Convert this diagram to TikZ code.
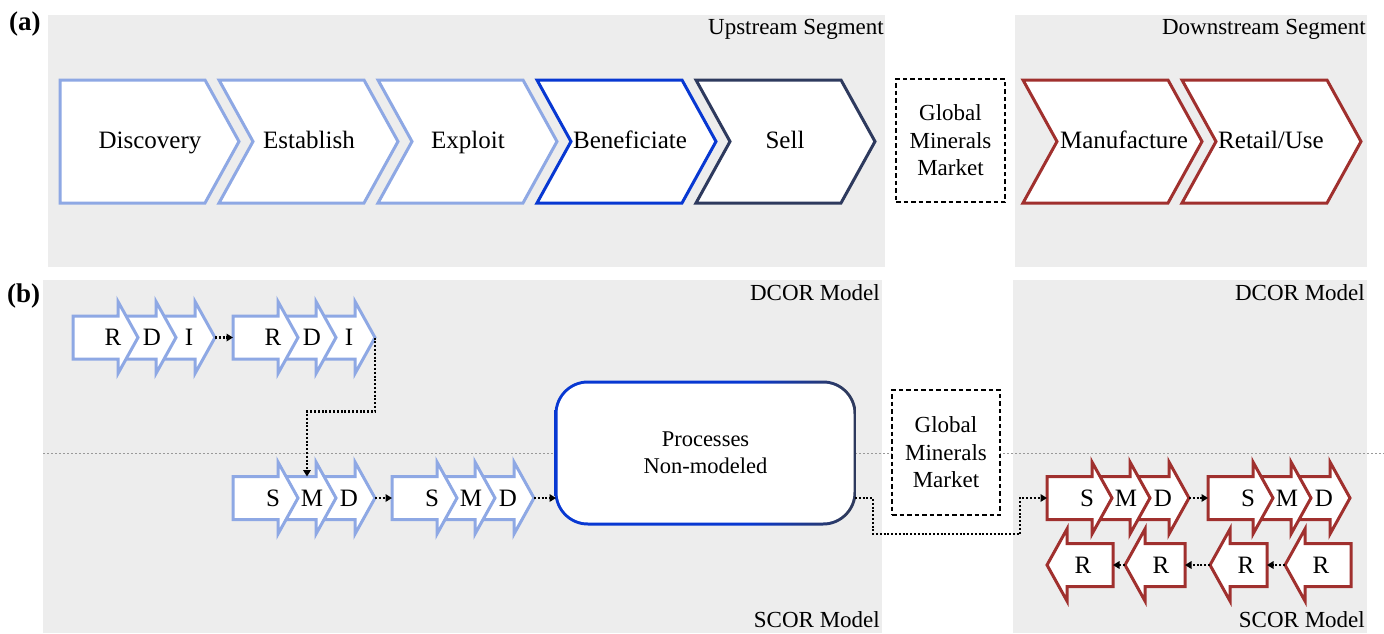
\documentclass[tikz,border=0pt]{standalone}
\usepackage{fontspec}
\setmainfont{Liberation Serif}
\usetikzlibrary{arrows.meta,calc}

\definecolor{panelgray}{HTML}{EDEDED}
\definecolor{lightblue}{HTML}{8EA8E4}
\definecolor{brightblue}{HTML}{0838D2}
\definecolor{navy}{HTML}{2E3A5E}
\definecolor{darkred}{HTML}{A0302E}

% border colour of the "Processes Non-modeled" box: blue fading into navy on the right
\pgfdeclarehorizontalshading{procedge}{100bp}{color(0bp)=(brightblue); color(25bp)=(brightblue); color(57bp)=(brightblue); color(73bp)=(navy); color(100bp)=(navy)}

\tikzset{
  chevron/.style={line width=3pt, fill=white, line join=miter},
  chevtext/.style={font=\fontsize{25}{30}\selectfont, anchor=base, inner sep=0},
  seglabel/.style={font=\fontsize{23}{27}\selectfont, anchor=base east, inner sep=0},
  panellabel/.style={font=\bfseries\fontsize{27}{30}\selectfont, anchor=base west, inner sep=0},
  blockarrow/.style={line width=3pt, fill=white, line join=miter},
  arrowhit/.style={rectangle, inner sep=0, outer sep=0, minimum height=43pt, draw=none},
  letter/.style={font=\fontsize{25}{30}\selectfont, inner sep=0},
  market/.style={draw=black, line width=2.6pt, dash pattern=on 4.5pt off 3pt, fill=white,
    align=center, inner sep=0, font=\fontsize{23}{27.5}\selectfont},
  procbox/.style={rectangle, rounded corners=30.5pt, fill=white, inner sep=0, outer sep=1.5pt,
    minimum width=296pt, minimum height=139pt, align=center, font=\fontsize{22.5}{27}\selectfont},
  flow/.style={draw=black, line width=2.2pt, dash pattern=on 2pt off 1.8pt,
    -{Triangle[length=6.5pt,width=7.5pt]}},
  divider/.style={draw=black!40, line width=0.8pt, dash pattern=on 2pt off 2pt},
}

% value-chain chevrons: left x, tip x, colour
\newcommand\chevflat[3]{\draw[chevron, draw=#3] ({#1},80) -- ({(#2)-34},80) -- ({#2},141.5) -- ({(#2)-34},203) -- ({#1},203) -- cycle;}
\newcommand\chevnotch[3]{\draw[chevron, draw=#3] ({#1},80) -- ({(#2)-34},80) -- ({#2},141.5) -- ({(#2)-34},203) -- ({#1},203) -- ({(#1)+34},141.5) -- cycle;}

% right-pointing block arrow: name, tail x, tip x, centre y, colour
\newcommand\blockright[5]{%
  \draw[blockarrow, draw=#5] ({#2},{(#4)-21.5}) -- ({(#3)-20},{(#4)-21.5}) -- ({(#3)-20},{(#4)-36})
    -- ({#3},{#4}) -- ({(#3)-20},{(#4)+36}) -- ({(#3)-20},{(#4)+21.5}) -- ({#2},{(#4)+21.5}) -- cycle;
  \node[arrowhit, minimum width={(#3)-(#2)}] (#1) at ({((#2)+(#3))/2},{#4}) {};
}

% left-pointing block arrow: name, tip x, tail x, centre y, colour, letter
\newcommand\blockleft[6]{%
  \draw[blockarrow, draw=#5] ({#3},{(#4)-21.5}) -- ({(#2)+20},{(#4)-21.5}) -- ({(#2)+20},{(#4)-36})
    -- ({#2},{#4}) -- ({(#2)+20},{(#4)+36}) -- ({(#2)+20},{(#4)+21.5}) -- ({#3},{(#4)+21.5}) -- cycle;
  \node[arrowhit, minimum width={(#3)-(#2)}] (#1) at ({((#2)+(#3))/2},{#4}) {};
  \node[letter] (#1-l) at ({(#2)+36},{#4}) {#6};
}

% three overlapping process arrows: prefix, left x, centre y, colour, letters
\newcommand\arrowtrio[7]{%
  \blockright{#1c}{(#2)+83}{(#2)+142}{#3}{#4}
  \blockright{#1b}{(#2)+45}{(#2)+103}{#3}{#4}
  \blockright{#1a}{#2}{(#2)+65}{#3}{#4}
  \node[letter] (#1a-l) at ({(#2)+40},{#3}) {#5};
  \node[letter] (#1b-l) at ({(#2)+79},{#3}) {#6};
  \node[letter] (#1c-l) at ({(#2)+116},{#3}) {#7};
}

\begin{document}
\begin{tikzpicture}[x=1pt, y=-1pt]
\useasboundingbox (0,0) rectangle (1384,633);
\fill[white] (0,0) rectangle (1384,633);

% grey segment panels
\fill[panelgray] (48,15) rectangle (885,267);
\fill[panelgray] (1015,15) rectangle (1367,267);
\fill[panelgray] (43,280) rectangle (882,633);
\fill[panelgray] (1013,280) rectangle (1367,633);

% boundary between DCOR and SCOR levels
\draw[divider] (43,453) -- (1384,453);

% ---------------- (a) value chain ----------------
\node[panellabel] (labA) at (9,30) {(a)};
\node[seglabel] (upLabel) at (884,34) {Upstream Segment};
\node[seglabel] (downLabel) at (1366,34) {Downstream Segment};

\chevflat{60}{239}{lightblue}
\chevnotch{219}{398}{lightblue}
\chevnotch{378}{557}{lightblue}
\chevnotch{537}{716}{brightblue}
\chevnotch{696}{875}{navy}
\chevnotch{1023}{1202}{darkred}
\chevnotch{1182}{1361}{darkred}

\node[chevtext] (discovery) at (150,148.5) {Discovery};
\node[chevtext] (establish) at (309,148.5) {Establish};
\node[chevtext] (exploit) at (468,148.5) {Exploit};
\node[chevtext] (beneficiate) at (630,148.5) {Beneficiate};
\node[chevtext] (sell) at (785,148.5) {Sell};
\node[chevtext] (manufacture) at (1124,148.5) {Manufacture};
\node[chevtext] (retail) at (1271,148.5) {Retail/Use};

\node[market, minimum width=109pt, minimum height=123pt] (marketA) at (950.5,140.5) {Global\\Minerals\\Market};

% ---------------- (b) DCOR / SCOR processes ----------------
\node[panellabel] (labB) at (7,302) {(b)};
\node[seglabel] (dcorL) at (880,300) {DCOR Model};
\node[seglabel] (scorL) at (880,627) {SCOR Model};
\node[seglabel] (dcorR) at (1365,300) {DCOR Model};
\node[seglabel] (scorR) at (1365,627) {SCOR Model};

\arrowtrio{rdiA}{73}{337.5}{lightblue}{R}{D}{I}
\arrowtrio{rdiB}{233}{337.5}{lightblue}{R}{D}{I}
\arrowtrio{smdA}{233}{498}{lightblue}{S}{M}{D}
\arrowtrio{smdB}{392}{498}{lightblue}{S}{M}{D}
\arrowtrio{smdC}{1047}{498}{darkred}{S}{M}{D}
\arrowtrio{smdD}{1208}{498}{darkred}{S}{M}{D}

\blockleft{retA}{1047}{1113}{565}{darkred}{R}
\blockleft{retB}{1125}{1185}{565}{darkred}{R}
\blockleft{retC}{1210}{1267}{565}{darkred}{R}
\blockleft{retD}{1285}{1351}{565}{darkred}{R}

\shade[shading=procedge, rounded corners=33.5pt] (554.5,380.5) rectangle (856.5,525.5);
\node[procbox] (proc) at (705.5,453) {Processes\\Non-modeled};

\node[market, minimum width=108pt, minimum height=125pt] (marketB) at (946,452.5) {Global\\Minerals\\Market};

% flows between processes
\draw[flow] (rdiAc.east) -- (rdiBa.west);
\draw[flow] (rdiBc.east) -- ++(0,74) -| (smdAb.north);
\draw[flow] (smdAc.east) -- (smdBa.west);
\draw[flow] (smdBc.east) -- (smdBc.east -| proc.west);
\draw[flow] (proc.east |- smdBc.east) -- ++(18,0) -- ++(0,36) -| ($(smdCa.west)+(-27,0)$) -- (smdCa.west);
\draw[flow] (smdCc.east) -- (smdDa.west);
\draw[flow] (retD.west) -- (retC.east);
\draw[flow] (retC.west) -- (retB.east);
\draw[flow] (retB.west) -- (retA.east);
\end{tikzpicture}
\end{document}
